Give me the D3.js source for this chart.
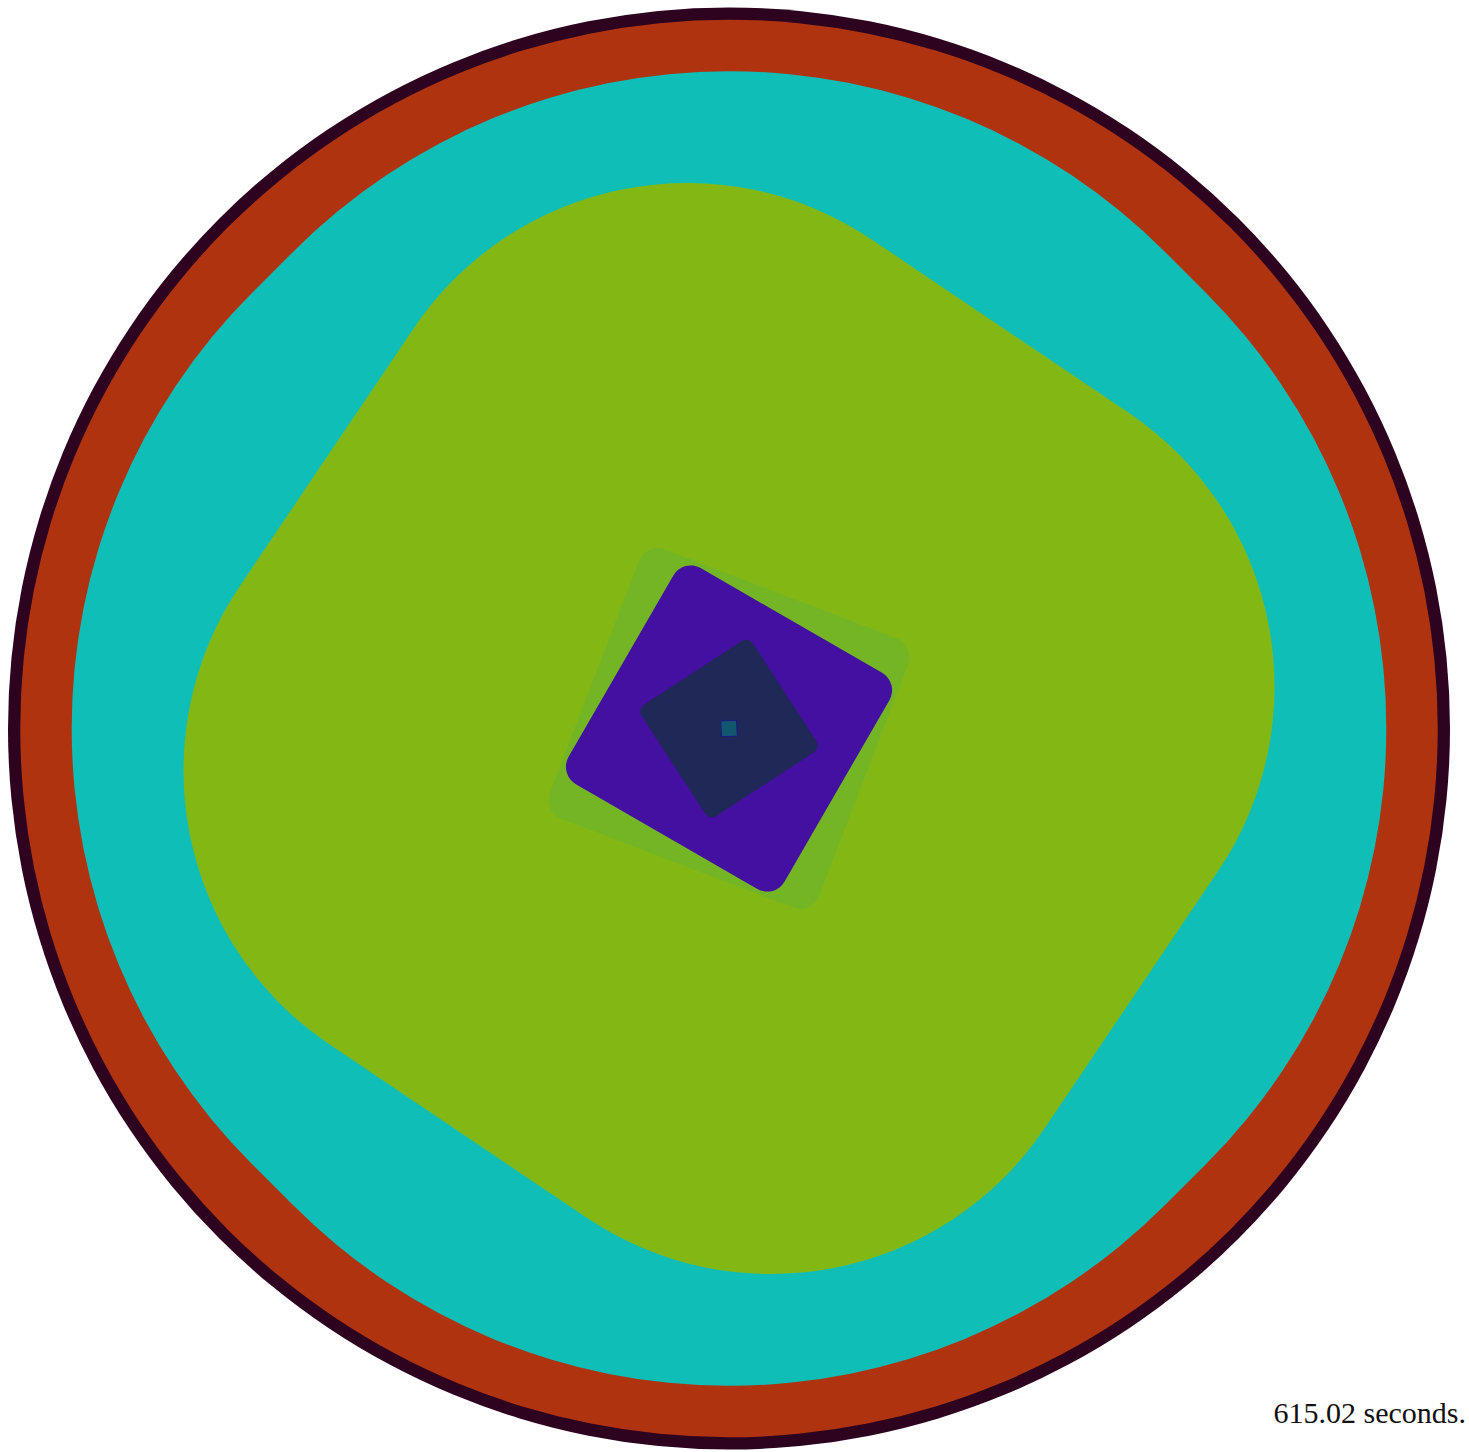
<!DOCTYPE html>
<html>
<head>
<meta charset="utf-8">
<script src="https://cdn.jsdelivr.net/npm/d3@7"></script>
<style>
  html, body { margin: 0; padding: 0; background: #ffffff; }
  svg { display: block; }
</style>
</head>
<body>
<script>
// ---- data (layers from outermost to innermost) ----
const layerNames   = ["rim", "ring", "sea", "field", "patch", "core", "shadow", "seed"];
const layerSizes   = [100, 98.3, 89.5, 67.3, 20.0, 17.3, 9.2, 1.1];    // side length, % of outer diameter
const layerRound   = [1.0, 1.0, 0.955, 0.68, 0.14, 0.16, 0.12, 0.05];  // corner radius / half side
const layerAngles  = [0, 0, 45, 34, 21, 30, -33, -3];                   // rotation, degrees
const layerColors  = ["#2e0320", "#b0330f", "#0fbfb7", "#83b814", "#74b526", "#4410a2", "#1f2856", "#13576e"];
const layerStrokes = ["none", "none", "none", "none", "none", "none", "none", "#1a1a80"];
const captionText  = "615.02 seconds.";

// ---- layout ----
const W = 1469, H = 1452;
const cx = 729, cy = 728.5;
const sizeScale = d3.scaleLinear().domain([0, 100]).range([0, 1442]);

const svg = d3.select("body").append("svg")
  .attr("width", W).attr("height", H)
  .attr("viewBox", `0 0 ${W} ${H}`);

const layers = layerNames.map((name, i) => ({
  name, size: layerSizes[i], round: layerRound[i], angle: layerAngles[i],
  color: layerColors[i], stroke: layerStrokes[i]
}));

svg.append("g")
  .attr("transform", `translate(${cx},${cy})`)
  .selectAll("rect")
  .data(layers)
  .join("rect")
  .attr("x", d => -sizeScale(d.size) / 2)
  .attr("y", d => -sizeScale(d.size) / 2)
  .attr("width", d => sizeScale(d.size))
  .attr("height", d => sizeScale(d.size))
  .attr("rx", d => sizeScale(d.size) / 2 * d.round)
  .attr("ry", d => sizeScale(d.size) / 2 * d.round)
  .attr("transform", d => `rotate(${d.angle})`)
  .attr("fill", d => d.color)
  .attr("stroke", d => d.stroke)
  .attr("stroke-width", 1);

svg.append("text")
  .attr("x", 1466)
  .attr("y", 1423)
  .attr("text-anchor", "end")
  .attr("font-family", "'Liberation Serif', 'DejaVu Serif', serif")
  .attr("font-size", 30)
  .attr("fill", "#111")
  .text(captionText);
</script>
</body>
</html>
